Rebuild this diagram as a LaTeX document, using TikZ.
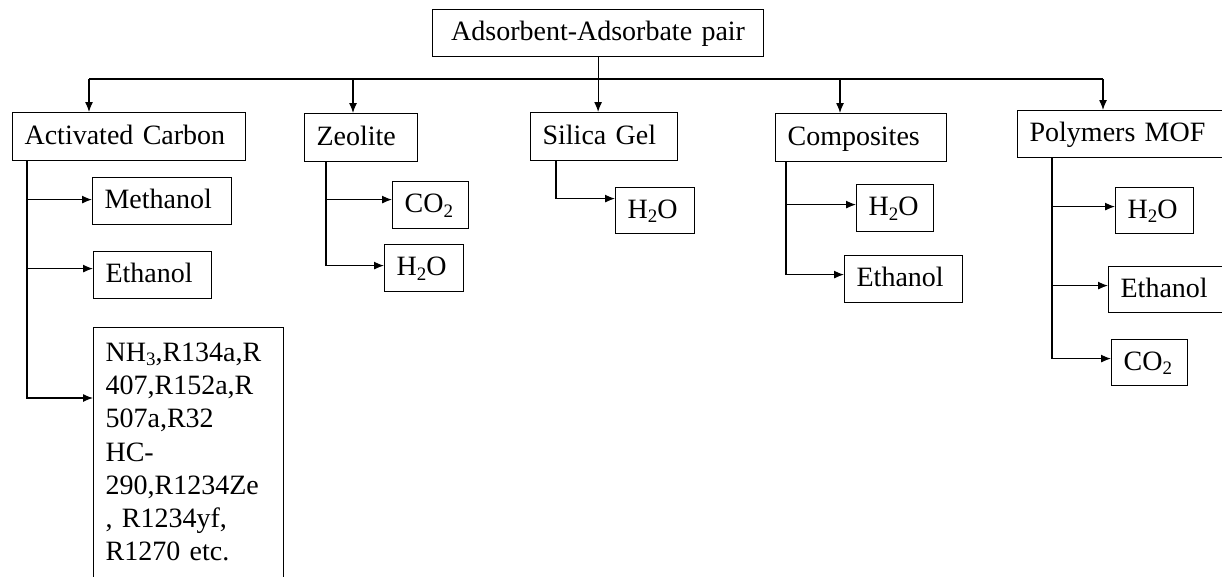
\documentclass[tikz,border=0pt]{standalone}
\usepackage{fontspec}
\setmainfont{Liberation Serif}
\usetikzlibrary{arrows.meta}
\newcommand{\chemsub}[1]{\raisebox{-0.35ex}{\fontsize{19}{19}\selectfont #1}}

\begin{document}
\begin{tikzpicture}[x=1pt, y=-1pt, line width=1.2pt]
\tikzset{edge/.style = {->,> = {Latex[length=10pt,width=8pt]}, line width=1.2pt}}
\tikzset{box/.style = {draw, anchor=north west, align=left, inner xsep=12pt, inner ysep=0pt,
                       text height=20pt, text depth=5pt, font=\fontsize{28}{33.3}\selectfont}}

   \useasboundingbox (0,0) rectangle (1222,576);
   \clip (0,0) rectangle (1222,576);

   % top level
   \node[box, align=center, text width=307pt, minimum height=47pt] (root) at (432,9) {Adsorbent-Adsorbate pair};

   \node[box, text width=209pt, minimum height=48pt] (ac)   at (12,112)   {Activated Carbon};
   \node[box, text width=89pt,  minimum height=48pt] (zeo)  at (304,113)  {Zeolite};
   \node[box, text width=123pt, minimum height=48pt] (sg)   at (530,112)  {Silica Gel};
   \node[box, text width=147pt, minimum height=48pt] (comp) at (775,113)  {Composites};
   \node[box, text width=200pt, minimum height=47pt] (pmof) at (1017,110) {Polymers MOF};

   % adsorbates
   \node[box, text width=115pt, minimum height=47pt] (meth) at (92,177)  {Methanol};
   \node[box, text width=94pt,  minimum height=47pt] (eth1) at (93,251)  {Ethanol};
   \node[box, text width=166pt, text height=, text depth=235pt, inner ysep=15pt] (nh3) at (93,327)
        {NH\chemsub{3},R134a,R\\407,R152a,R\\507a,R32\\HC-\\290,R1234Ze\\, R1234yf,\\R1270 etc.};

   \node[box, text width=52pt, minimum height=47pt] (zco2) at (392,181) {CO\chemsub{2}};
   \node[box, text width=55pt, minimum height=47pt] (zh2o) at (384,244) {H\chemsub{2}O};

   \node[box, text width=55pt, minimum height=46pt] (sgh2o) at (615,187) {H\chemsub{2}O};

   \node[box, text width=53pt, minimum height=47pt] (ch2o) at (856,184) {H\chemsub{2}O};
   \node[box, text width=94pt, minimum height=47pt] (ceth) at (844,255) {Ethanol};

   \node[box, text width=54pt, minimum height=46pt] (ph2o) at (1115,187) {H\chemsub{2}O};
   \node[box, text width=100pt, minimum height=46pt] (peth) at (1108,266) {Ethanol};
   \node[box, text width=52pt, minimum height=46pt] (pco2) at (1111,339) {CO\chemsub{2}};

   % bus from the root
   \coordinate (dAC) at (89,79);
   \coordinate (dZE) at (353,79);
   \coordinate (dCO) at (840,79);
   \coordinate (dPM) at (1103,79);
   \draw (dAC) -- (dPM);
   \draw[edge] (root.south) -- (root.south |- sg.north);
   \draw[edge] (dAC) -- (dAC |- ac.north);
   \draw[edge] (dZE) -- (dZE |- zeo.north);
   \draw[edge] (dCO) -- (dCO |- comp.north);
   \draw[edge] (dPM) -- (dPM |- pmof.north);

   % trunks to the adsorbates
   \coordinate (tAC) at (27,160);
   \draw[edge] (tAC) |- ([yshift=1.5pt]meth.west);
   \draw[edge] (tAC) |- ([yshift=6.5pt]eth1.west);
   \draw[edge] (tAC) |- ([yshift=-71pt]nh3.north west);

   \coordinate (tZE) at (326,161);
   \draw[edge] (tZE) |- ([yshift=5.5pt]zco2.west);
   \draw[edge] (tZE) |- ([yshift=2.5pt]zh2o.west);

   \coordinate (tSG) at (556,160);
   \draw[edge] (tSG) |- ([yshift=12pt]sgh2o.west);

   \coordinate (tCO) at (786,161);
   \draw[edge] (tCO) |- ([yshift=3.5pt]ch2o.west);
   \draw[edge] (tCO) |- ([yshift=4.5pt]ceth.west);

   \coordinate (tPM) at (1052,157);
   \draw[edge] (tPM) |- ([yshift=4pt]ph2o.west);
   \draw[edge] (tPM) |- ([yshift=4pt]peth.west);
   \draw[edge] (tPM) |- ([yshift=4pt]pco2.west);

\end{tikzpicture}
\end{document}
